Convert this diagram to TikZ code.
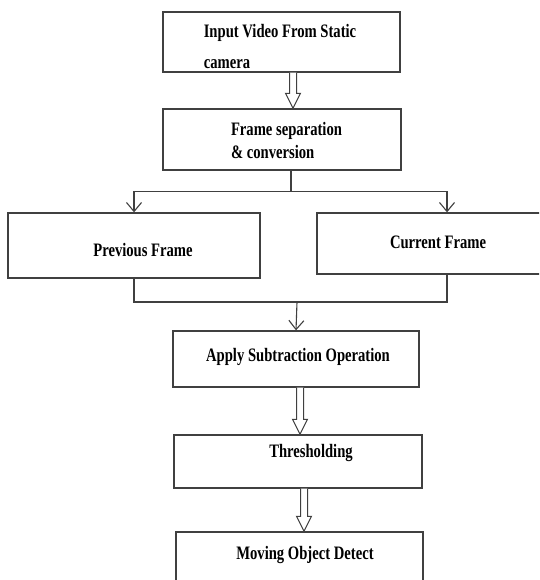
\documentclass[tikz,border=0pt]{standalone}
\usepackage{fontspec}
\usepackage{tikz}
\usetikzlibrary{arrows.meta,calc}
\newfontfamily\boxfont[FakeStretch=0.77]{Liberation Serif}

\begin{document}
\begin{tikzpicture}[x=1pt,y=-1pt,
	box/.style={draw=black!75, line width=1.3pt, fill=white, inner sep=0pt},
	txt/.style={font=\boxfont\bfseries\fontsize{19}{23}\selectfont, inner sep=0pt},
	line/.style={draw=black!75, line width=1.1pt},
	tip/.style={line, -{Straight Barb[length=9pt,width=15pt]}},
	hollow/.style={draw=black!75, line width=1pt, fill=white,
		to path={let \p1=(\tikztostart), \p2=(\tikztotarget) in
			(\x1-3.5pt,\y1) -- (\x1-3.5pt,\y2+15pt) -- (\x1-7.5pt,\y2+15pt) -- (\x1,\y2)
			-- (\x1+7.5pt,\y2+15pt) -- (\x1+3.5pt,\y2+15pt) -- (\x1+3.5pt,\y1)}}]
					\path[use as bounding box, clip] (0,0) rectangle (539,580);

					% boxes
					\node[box, minimum width=237, minimum height=60] (in) at (281.5,42) {};
					\node[box, minimum width=238, minimum height=61] (sep) at (282,139.5) {};
					\node[box, minimum width=252, minimum height=65] (prev) at (134,245.5) {};
					\node[box, minimum width=260, minimum height=61] (cur) at (447,243.5) {};
					\node[box, minimum width=246, minimum height=56] (sub) at (296,359) {};
					\node[box, minimum width=248, minimum height=53] (thr) at (298,461.5) {};
					\node[box, minimum width=247, minimum height=62] (det) at (299.5,563) {};

					% texts
					\node[txt, align=left] (inT) at (280,47) {Input Video From Static\\[8pt]camera};
					\node[txt, align=left] (sepT) at (286.5,141) {Frame separation\\\& conversion};
					\node[txt] (prevT) at (143,250) {Previous Frame};
					\node[txt] (curT) at (438,242) {Current Frame};
					\node[txt] (subT) at (298,357) {Apply Subtraction Operation};
					\node[txt] (thrT) at (311,453) {Thresholding};
					\node[txt] (detT) at (305,555) {Moving Object Detect};

					% connectors
					\draw[hollow] ([xshift=11.5pt]in.south) to ([xshift=11.5pt]sep.north);
					\draw[line] ([xshift=9pt]sep.south) -- ++(0,21) coordinate (split);
					\draw[tip] (split) -| (prev.north);
					\draw[tip] (split) -| (cur.north);
					\coordinate (join) at (297,302);
					\draw[line] (prev.south) |- (join);
					\draw[line] (cur.south) |- (join);
					\draw[tip] (join) -- (sub.north);
					\draw[hollow] ([xshift=4pt]sub.south) to ([xshift=4pt]thr.north);
					\draw[hollow] ([xshift=6pt]thr.south) to ([xshift=6pt]det.north);
\end{tikzpicture}
\end{document}
